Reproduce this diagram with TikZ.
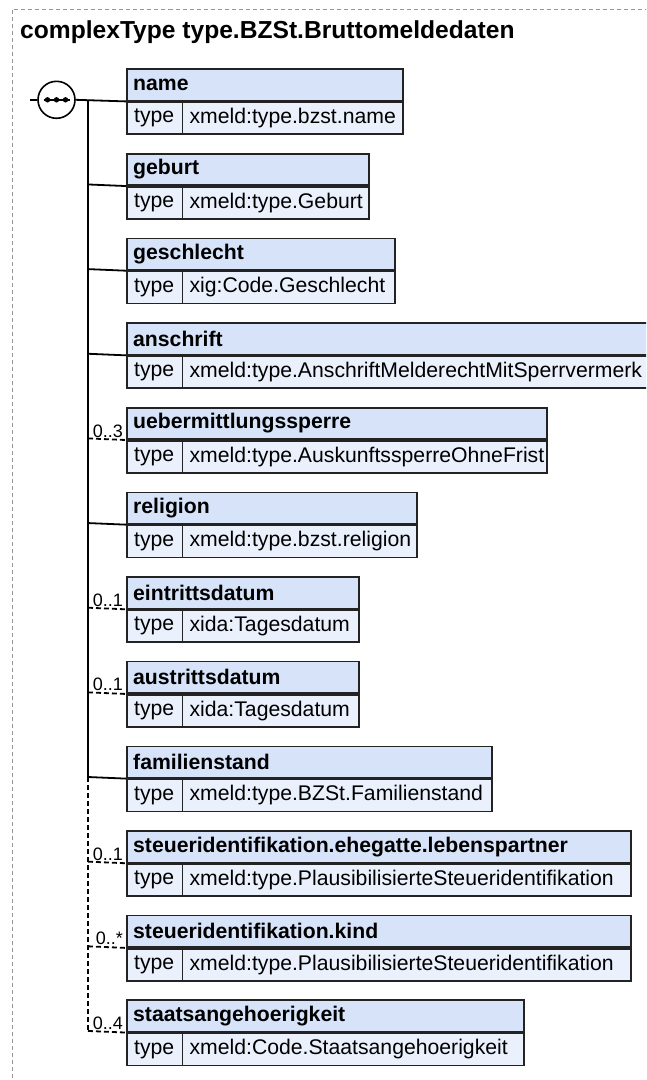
\documentclass[tikz,border=0pt]{standalone}
\usepackage{fontspec}
\setmainfont{Liberation Sans}
\definecolor{hdrfill}{RGB}{214,227,248}
\definecolor{rowfill}{RGB}{234,241,252}
\definecolor{boxline}{RGB}{35,35,35}
\definecolor{framegray}{RGB}{150,150,150}
\tikzset{
  hdrbox/.style={draw=boxline, fill=hdrfill, line width=1.6pt, minimum height=31.5pt, inner sep=0pt},
  rowbox/.style={draw=boxline, fill=rowfill, line width=1.6pt, minimum height=32pt, inner sep=0pt},
  typecell/.style={minimum width=56pt, minimum height=32pt, inner sep=0pt, font=\fontsize{21.2}{24}\selectfont},
  hdrtext/.style={inner sep=0pt, font=\fontsize{21.2}{24}\selectfont\bfseries},
  valtext/.style={inner xsep=7pt, inner ysep=0pt, font=\fontsize{21.2}{24}\selectfont},
  divider/.style={draw=boxline, line width=1.4pt},
  conn/.style={draw=black, line width=1.8pt},
  optconn/.style={draw=black, line width=1.8pt, dash pattern=on 5pt off 3pt},
  card/.style={inner sep=0pt, font=\fontsize{18}{20}\selectfont},
  titletext/.style={inner sep=0pt, font=\fontsize{24.6}{28}\selectfont\bfseries},
  seqcircle/.style={circle, draw=black, line width=1.6pt, fill=white, minimum size=37pt, inner sep=0pt},
}
\newcommand\elbox[5]{%
  \node[hdrbox, minimum width=#3pt, anchor=north west] (#1h) at (126,#2) {};
  \node[rowbox, minimum width=#3pt, anchor=north west] (#1r) at (#1h.south west) {};
  \node[typecell, anchor=west] (#1t) at (#1r.west) {type};
  \draw[divider] (#1t.north east) -- (#1t.south east);
  \node[hdrtext, anchor=west] (#1n) at ([xshift=7pt]#1h.west) {#4};
  \node[valtext, anchor=west] (#1v) at (#1t.east) {#5};
  \coordinate (#1bus) at (88,#2+31.5);
}
\begin{document}
\begin{tikzpicture}[x=1pt,y=-1pt]
\clip (0,0) rectangle (646,1080);
\fill[white] (0,0) rectangle (646,1080);
\coordinate (frameBL) at (12.5,1085);
\coordinate (frameTL) at (12.5,9);
\coordinate (frameTR) at (650,9);
\draw[framegray, line width=1pt, dash pattern=on 4pt off 3pt] (frameBL) -- (frameTL) -- (frameTR);
\node[titletext, anchor=base west] (title) at (20,38) {complexType type.BZSt.Bruttomeldedaten};

\elbox{a}{68.3}{276}{name}{xmeld:type.bzst.name}
\elbox{b}{152.95}{242}{geburt}{xmeld:type.Geburt}
\elbox{c}{237.6}{268}{geschlecht}{xig:Code.Geschlecht}
\elbox{d}{322.25}{554}{anschrift}{xmeld:type.AnschriftMelderechtMitSperrvermerk}
\elbox{e}{406.9}{420}{uebermittlungssperre}{xmeld:type.AuskunftssperreOhneFrist}
\elbox{f}{491.55}{290}{religion}{xmeld:type.bzst.religion}
\elbox{g}{576.2}{232}{eintrittsdatum}{xida:Tagesdatum}
\elbox{h}{660.85}{232}{austrittsdatum}{xida:Tagesdatum}
\elbox{i}{745.5}{365}{familienstand}{xmeld:type.BZSt.Familienstand}
\elbox{j}{830.15}{504}{steueridentifikation.ehegatte.lebenspartner}{xmeld:type.PlausibilisierteSteueridentifikation}
\elbox{k}{914.8}{504}{steueridentifikation.kind}{xmeld:type.PlausibilisierteSteueridentifikation}
\elbox{l}{999.45}{397}{staatsangehoerigkeit}{xmeld:Code.Staatsangehoerigkeit}

% sequence compositor
\node[seqcircle] (seq) at (56.5,99.8) {};
\coordinate (inlet) at (30,99.8);
\draw[conn] (inlet) -- (seq.west);
\draw[conn] (seq.east) -- (ah.south west);
\draw[line width=1.6pt] ([xshift=-13pt]seq.center) -- ([xshift=13pt]seq.center);
\fill ([xshift=-9pt]seq.center) circle (2.7pt);
\fill (seq.center) circle (2.7pt);
\fill ([xshift=9pt]seq.center) circle (2.7pt);

% bus
\draw[conn] (abus) -- (ibus);
\draw[optconn] (ibus) -- (lbus);
\foreach \b in {b,c,d,f,i}{\draw[conn] (\b bus) -- (\b h.south west);}
\foreach \b in {e,g,h,j,k,l}{\draw[optconn] (\b bus) -- (\b h.south west);}

% cardinalities
\node[card, anchor=base east] (ecard) at ([xshift=-3pt,yshift=3pt]eh.south west) {0..3};
\node[card, anchor=base east] (gcard) at ([xshift=-3pt,yshift=3pt]gh.south west) {0..1};
\node[card, anchor=base east] (hcard) at ([xshift=-3pt,yshift=3pt]hh.south west) {0..1};
\node[card, anchor=base east] (jcard) at ([xshift=-3pt,yshift=3pt]jh.south west) {0..1};
\node[card, anchor=base east] (kcard) at ([xshift=-3pt,yshift=3pt]kh.south west) {0..*};
\node[card, anchor=base east] (lcard) at ([xshift=-3pt,yshift=3pt]lh.south west) {0..4};
\end{tikzpicture}
\end{document}
